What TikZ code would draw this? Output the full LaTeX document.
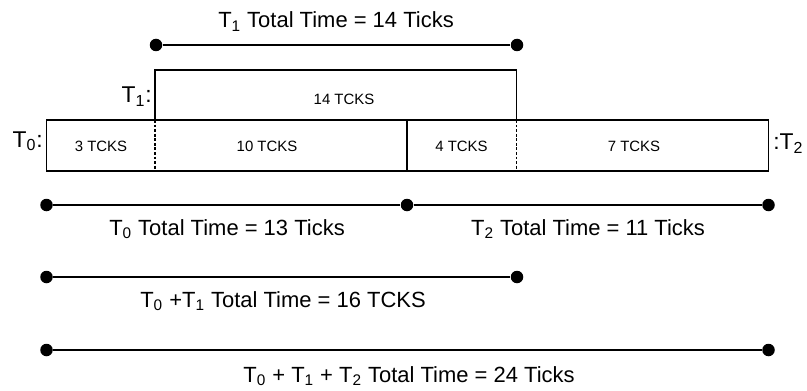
\documentclass[tikz,border=0pt]{standalone}
\usepackage{fontspec}
\setmainfont{Liberation Sans}
\usetikzlibrary{positioning}

\tikzset{
  seg/.style={line width=0.6pt},
  split/.style={line width=0.6pt,dash pattern=on 1.6pt off 1pt},
  span/.style={line width=1.2pt},
  enddot/.style={circle,fill=black,inner sep=0pt,minimum size=0.25cm},
  cnt/.style={anchor=base,inner sep=0pt,font=\fontsize{8.5}{10}\selectfont},
  total/.style={anchor=base,inner sep=0pt,font=\fontsize{12.5}{14}\selectfont},
  tname/.style={inner sep=0pt,font=\fontsize{13}{15}\selectfont}
}

\begin{document}
\begin{tikzpicture}[x=0.2cm,y=0.2cm]
\useasboundingbox (0,0) rectangle (80.7,39);

% tick bars
\coordinate (bl) at (4.65,21.9);
\coordinate (tr) at (76.85,27.0);
\coordinate (a) at (15.5,27.0);
\coordinate (b) at (40.7,27.0);
\coordinate (c) at (51.65,27.0);
\draw[seg] (bl) rectangle (tr);
\draw[seg] (a) rectangle (c |- 0,32.0);
\draw[split] (a) -- (a |- bl);
\draw[seg] (b) -- (b |- bl);
\draw[split] (c) -- (c |- bl);

\node[cnt] (n3) at (10.1,23.8) {3 TCKS};
\node[cnt] (n10) at (26.7,23.8) {10 TCKS};
\node[cnt] (n4) at (46.15,23.8) {4 TCKS};
\node[cnt] (n7) at (63.4,23.8) {7 TCKS};
\node[cnt] (n14) at (34.4,28.5) {14 TCKS};

\node[tname,anchor=base east] (t0) at (4.3,24.3) {T\textsubscript{0}:};
\node[tname,anchor=base east] (t1) at (15.2,28.7) {T\textsubscript{1}:};
\node[tname,anchor=base west] (t2) at (77.3,24.0) {:T\textsubscript{2}};

% total time spans
\node[enddot] (p1) at (15.6,34.5) {};
\node[enddot] (q1) at (51.7,34.5) {};
\draw[span] (p1) -- (q1);
\node[total] (l1) at (33.6,36.2) {T\textsubscript{1} Total Time = 14 Ticks};

\node[enddot] (p0) at (4.65,18.5) {};
\node[enddot] (q0) at (40.7,18.5) {};
\node[enddot] (q2) at (76.85,18.5) {};
\draw[span] (p0) -- (q0) -- (q2);
\node[total] (l0) at (22.7,15.5) {T\textsubscript{0} Total Time = 13 Ticks};
\node[total] (l2) at (58.8,15.5) {T\textsubscript{2} Total Time = 11 Ticks};

\node[enddot] (p01) at (4.65,11.3) {};
\node[enddot] (q01) at (51.7,11.3) {};
\draw[span] (p01) -- (q01);
\node[total] (l01) at (28.3,8.3) {T\textsubscript{0} +T\textsubscript{1} Total Time = 16 TCKS};

\node[enddot] (pall) at (4.65,4.0) {};
\node[enddot] (qall) at (76.85,4.0) {};
\draw[span] (pall) -- (qall);
\node[total] (lall) at (40.9,0.8) {T\textsubscript{0} + T\textsubscript{1} + T\textsubscript{2} Total Time = 24 Ticks};
\end{tikzpicture}
\end{document}
